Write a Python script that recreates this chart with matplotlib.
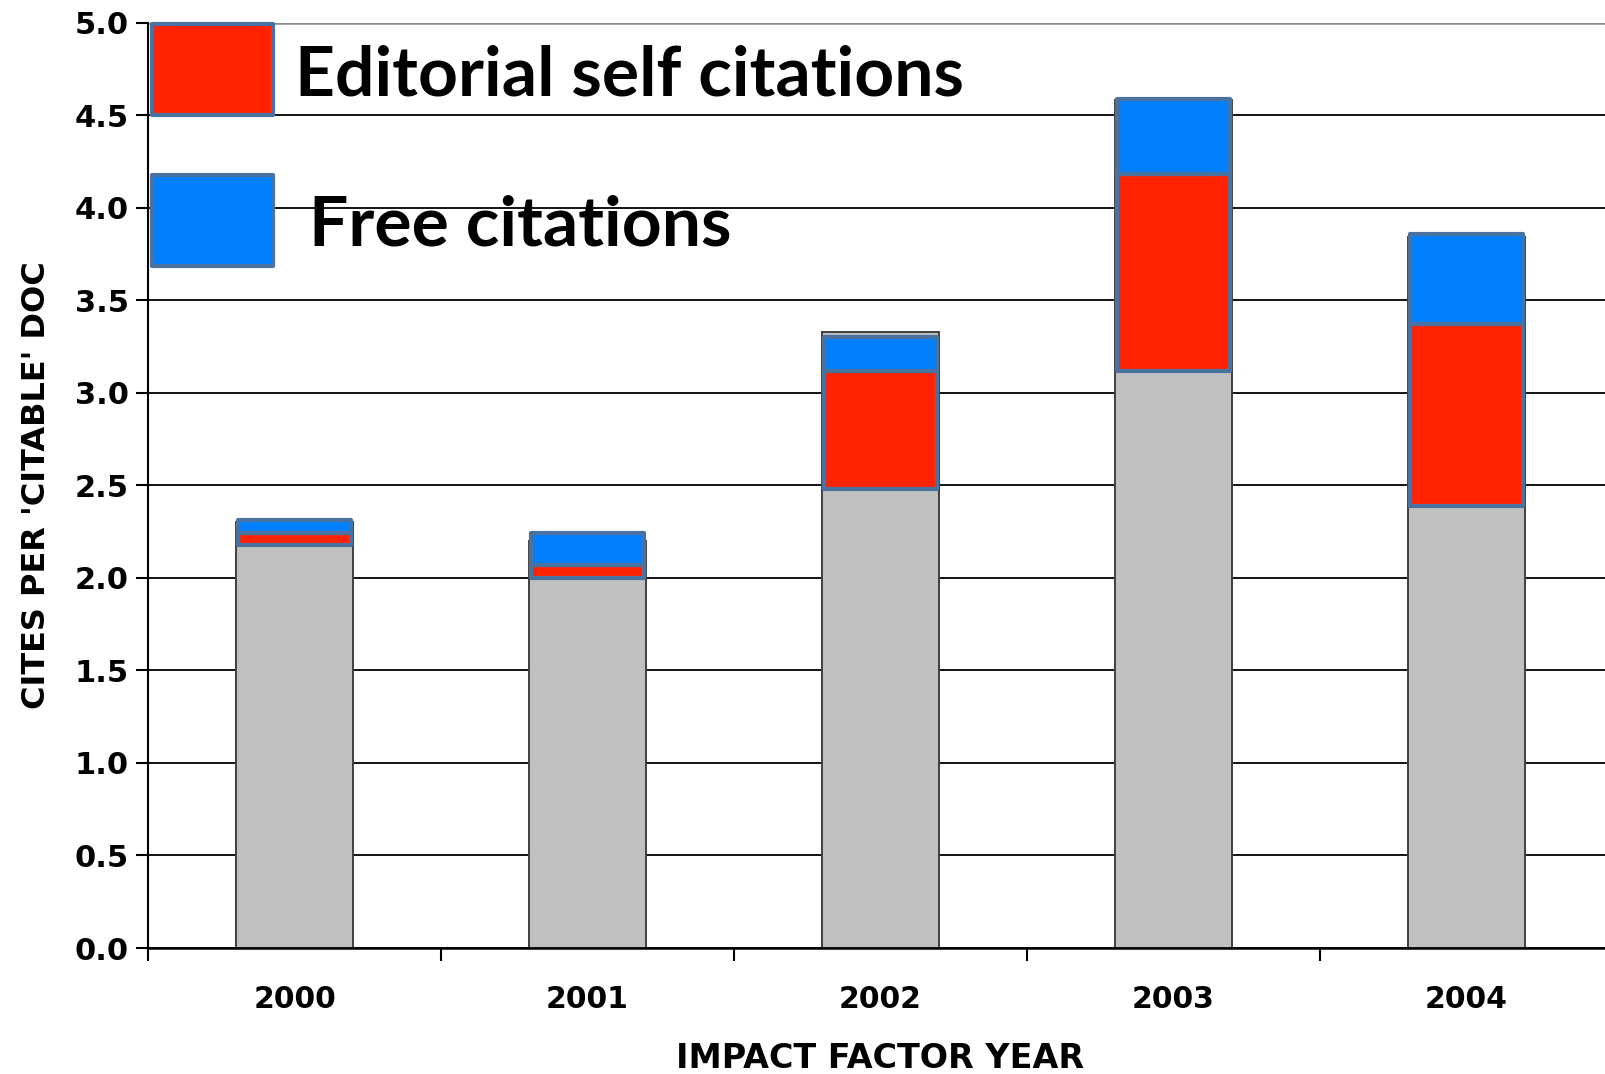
# -*- coding: utf-8 -*-

import numpy as np
import matplotlib.pyplot as plt
from matplotlib.patches import Rectangle

# data
years = ['2000', '2001', '2002', '2003', '2004']
base_top = [2.30, 2.20, 3.33, 4.58, 3.84]        # grey bars
self_bottom = [2.18, 2.00, 2.48, 3.12, 2.39]     # editorial self citations (red)
self_top = [2.24, 2.07, 3.12, 4.18, 3.37]
free_top = [2.315, 2.245, 3.30, 4.59, 3.86]      # free citations (blue)
y_ticks = [0.0, 0.5, 1.0, 1.5, 2.0, 2.5, 3.0, 3.5, 4.0, 4.5, 5.0]

W, H = 1605, 1074


def main():
    plt.rcParams['font.family'] = ['DejaVu Sans']
    fig = plt.figure(figsize=(W / 100, H / 100), dpi=100)
    left, right, top, bottom = 148, 1613, 22.7, 948
    ax = fig.add_axes([left / W, 1 - bottom / H, (right - left) / W, (bottom - top) / H])

    x = np.arange(len(years))
    self_h = np.array(self_top) - np.array(self_bottom)
    free_h = np.array(free_top) - np.array(self_top)

    # grid
    for v in y_ticks[:-1]:
        ax.axhline(v, color='black', lw=1.3, zorder=0)
    ax.axhline(5.0, color='#888888', lw=1.8, zorder=0)

    ax.bar(x, base_top, width=0.40, color='#c0c0c0', edgecolor='#404040', lw=1.4, zorder=2)
    ax.bar(x, self_h, bottom=self_bottom, width=0.385, color='#ff2200', edgecolor='#4a72a0',
           lw=3.0, joinstyle='round', zorder=3)
    ax.bar(x, free_h, bottom=self_top, width=0.385, color='#0080ff', edgecolor='#4a72a0',
           lw=3.0, joinstyle='round', zorder=3)

    ax.set_xlim(-0.5, 4.5)
    ax.set_ylim(0, 5)
    ax.set_yticks(y_ticks)
    ax.set_yticklabels(['%.1f' % v for v in y_ticks], fontsize=22, fontweight='bold')
    ax.set_xticks(x)
    ax.set_xticklabels(years, fontsize=21.5, fontweight='bold')
    ax.set_xticks(np.arange(-0.5, 5.0, 1.0), minor=True)
    ax.tick_params(axis='x', which='major', length=0, pad=27)
    ax.tick_params(axis='x', which='minor', length=9, width=1.5, direction='out')
    ax.tick_params(axis='y', length=9, width=1.5, direction='out', pad=5)
    for s in ['top', 'right']:
        ax.spines[s].set_visible(False)
    ax.spines['left'].set_linewidth(1.5)
    ax.spines['bottom'].set_linewidth(1.8)
    ax.set_xlabel('IMPACT FACTOR YEAR', fontsize=24, fontweight='bold', labelpad=20)
    ax.set_ylabel("CITES PER 'CITABLE' DOC", fontsize=23, fontweight='bold', labelpad=16)

    # legend boxes drawn by hand, in figure pixels
    def fbox(x0, y0, x1, y1, color):
        r = Rectangle((x0 / W, 1 - y1 / H), (x1 - x0) / W, (y1 - y0) / H,
                      transform=fig.transFigure, facecolor=color, edgecolor='#4a72a0',
                      lw=3.0, joinstyle='round', zorder=10)
        fig.add_artist(r)

    fbox(152, 24, 273, 115, '#ff2200')
    fbox(152, 175, 273, 266, '#0080ff')
    fig.text(295 / W, 1 - 95 / H, 'Editorial self citations', fontsize=50, fontweight='bold',
             family=['Lato', 'DejaVu Sans'], va='baseline', ha='left')
    fig.text(309 / W, 1 - 245 / H, 'Free citations', fontsize=50, fontweight='bold',
             family=['Lato', 'DejaVu Sans'], va='baseline', ha='left')

    fig.savefig('out.png', dpi=100)


if __name__ == '__main__':
    main()
